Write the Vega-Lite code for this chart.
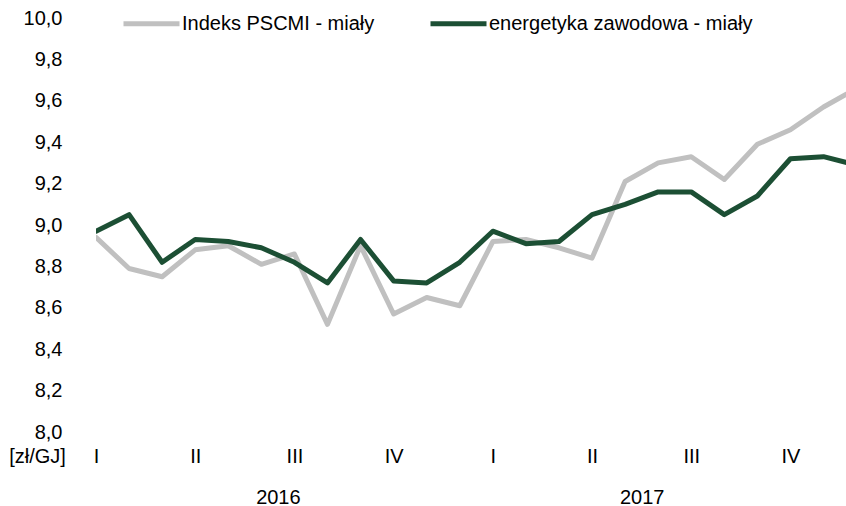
{
  "$schema": "https://vega.github.io/schema/vega-lite/v6.json",
  "width": 750,
  "height": 414,
  "autosize": {"type": "none"},
  "padding": {"left": 96, "top": 18, "right": 0, "bottom": 74},
  "background": "white",
  "config": {
    "view": {"stroke": null},
    "font": "Liberation Sans",
    "axis": {"grid": false, "domain": false, "ticks": false, "tickSize": 0, "labelFont": "Liberation Sans", "labelFontSize": 20, "labelColor": "#000000", "titleFont": "Liberation Sans", "titleColor": "#000000"}
  },
  "data": {
    "values": [
      {"m": 0, "series": "Indeks PSCMI - miały", "value": 8.94},
      {"m": 1, "series": "Indeks PSCMI - miały", "value": 8.79},
      {"m": 2, "series": "Indeks PSCMI - miały", "value": 8.75},
      {"m": 3, "series": "Indeks PSCMI - miały", "value": 8.88},
      {"m": 4, "series": "Indeks PSCMI - miały", "value": 8.90},
      {"m": 5, "series": "Indeks PSCMI - miały", "value": 8.81},
      {"m": 6, "series": "Indeks PSCMI - miały", "value": 8.86},
      {"m": 7, "series": "Indeks PSCMI - miały", "value": 8.52},
      {"m": 8, "series": "Indeks PSCMI - miały", "value": 8.90},
      {"m": 9, "series": "Indeks PSCMI - miały", "value": 8.57},
      {"m": 10, "series": "Indeks PSCMI - miały", "value": 8.65},
      {"m": 11, "series": "Indeks PSCMI - miały", "value": 8.61},
      {"m": 12, "series": "Indeks PSCMI - miały", "value": 8.92},
      {"m": 13, "series": "Indeks PSCMI - miały", "value": 8.93},
      {"m": 14, "series": "Indeks PSCMI - miały", "value": 8.89},
      {"m": 15, "series": "Indeks PSCMI - miały", "value": 8.84},
      {"m": 16, "series": "Indeks PSCMI - miały", "value": 9.21},
      {"m": 17, "series": "Indeks PSCMI - miały", "value": 9.30},
      {"m": 18, "series": "Indeks PSCMI - miały", "value": 9.33},
      {"m": 19, "series": "Indeks PSCMI - miały", "value": 9.22},
      {"m": 20, "series": "Indeks PSCMI - miały", "value": 9.39},
      {"m": 21, "series": "Indeks PSCMI - miały", "value": 9.46},
      {"m": 22, "series": "Indeks PSCMI - miały", "value": 9.57},
      {"m": 23, "series": "Indeks PSCMI - miały", "value": 9.66},
      {"m": 0, "series": "energetyka zawodowa - miały", "value": 8.97},
      {"m": 1, "series": "energetyka zawodowa - miały", "value": 9.05},
      {"m": 2, "series": "energetyka zawodowa - miały", "value": 8.82},
      {"m": 3, "series": "energetyka zawodowa - miały", "value": 8.93},
      {"m": 4, "series": "energetyka zawodowa - miały", "value": 8.92},
      {"m": 5, "series": "energetyka zawodowa - miały", "value": 8.89},
      {"m": 6, "series": "energetyka zawodowa - miały", "value": 8.82},
      {"m": 7, "series": "energetyka zawodowa - miały", "value": 8.72},
      {"m": 8, "series": "energetyka zawodowa - miały", "value": 8.93},
      {"m": 9, "series": "energetyka zawodowa - miały", "value": 8.73},
      {"m": 10, "series": "energetyka zawodowa - miały", "value": 8.72},
      {"m": 11, "series": "energetyka zawodowa - miały", "value": 8.82},
      {"m": 12, "series": "energetyka zawodowa - miały", "value": 8.97},
      {"m": 13, "series": "energetyka zawodowa - miały", "value": 8.91},
      {"m": 14, "series": "energetyka zawodowa - miały", "value": 8.92},
      {"m": 15, "series": "energetyka zawodowa - miały", "value": 9.05},
      {"m": 16, "series": "energetyka zawodowa - miały", "value": 9.10},
      {"m": 17, "series": "energetyka zawodowa - miały", "value": 9.16},
      {"m": 18, "series": "energetyka zawodowa - miały", "value": 9.16},
      {"m": 19, "series": "energetyka zawodowa - miały", "value": 9.05},
      {"m": 20, "series": "energetyka zawodowa - miały", "value": 9.14},
      {"m": 21, "series": "energetyka zawodowa - miały", "value": 9.32},
      {"m": 22, "series": "energetyka zawodowa - miały", "value": 9.33},
      {"m": 23, "series": "energetyka zawodowa - miały", "value": 9.29}
    ]
  },
  "encoding": {
    "y": {
      "field": "value",
      "type": "quantitative",
      "scale": {"domain": [8, 10], "nice": false, "zero": false},
      "axis": {
        "values": [8, 8.2, 8.4, 8.6, 8.8, 9, 9.2, 9.4, 9.6, 9.8, 10],
        "labelExpr": "replace(format(datum.value, '.1f'), '.', ',')",
        "labelPadding": 34,
        "title": "[zł/GJ]",
        "titleAngle": 0,
        "titleFontSize": 20,
        "titleFontWeight": "normal",
        "titleAlign": "center",
        "titleBaseline": "middle",
        "titleX": -59,
        "titleY": 438
      }
    },
    "color": {
      "field": "series",
      "type": "nominal",
      "scale": {"domain": ["Indeks PSCMI - miały", "energetyka zawodowa - miały"], "range": ["#c0c0c0", "#1c4f34"]},
      "legend": {
        "title": null,
        "orient": "none",
        "direction": "horizontal",
        "legendX": 25,
        "legendY": -25,
        "padding": 0,
        "symbolType": "stroke",
        "symbolSize": 3136,
        "symbolStrokeWidth": 5,
        "labelFont": "Liberation Sans",
        "labelFontSize": 20,
        "labelColor": "#000000",
        "labelLimit": 500,
        "labelOffset": 0,
        "columnPadding": 45
      }
    }
  },
  "layer": [
    {
      "transform": [{"filter": "datum.series == 'Indeks PSCMI - miały'"}],
      "mark": {"type": "line", "strokeWidth": 5, "strokeJoin": "round", "strokeCap": "round", "clip": true},
      "encoding": {
        "x": {
          "field": "m",
          "type": "quantitative",
          "scale": {"domain": [0, 22.68], "nice": false, "zero": false},
          "axis": {
            "orient": "bottom",
            "title": null,
            "values": [0, 3, 6, 9, 12, 15, 18, 21],
            "labelExpr": "['I','II','III','IV'][(datum.value/3)%4]",
            "labelPadding": 24,
            "labelBaseline": "middle",
            "labelFlush": false
          }
        }
      }
    },
    {
      "transform": [{"filter": "datum.series == 'energetyka zawodowa - miały'"}],
      "mark": {"type": "line", "strokeWidth": 5, "strokeJoin": "round", "strokeCap": "round", "clip": true},
      "encoding": {
        "x": {
          "field": "m",
          "type": "quantitative",
          "scale": {"domain": [0, 22.68], "nice": false, "zero": false},
          "axis": {
            "orient": "bottom",
            "title": null,
            "values": [5.5, 16.5],
            "labelExpr": "datum.value < 11 ? '2016' : '2017'",
            "labelPadding": 24,
            "labelBaseline": "middle",
            "labelFlush": false,
            "offset": 41
          }
        }
      }
    }
  ],
  "resolve": {"axis": {"x": "independent"}}
}
